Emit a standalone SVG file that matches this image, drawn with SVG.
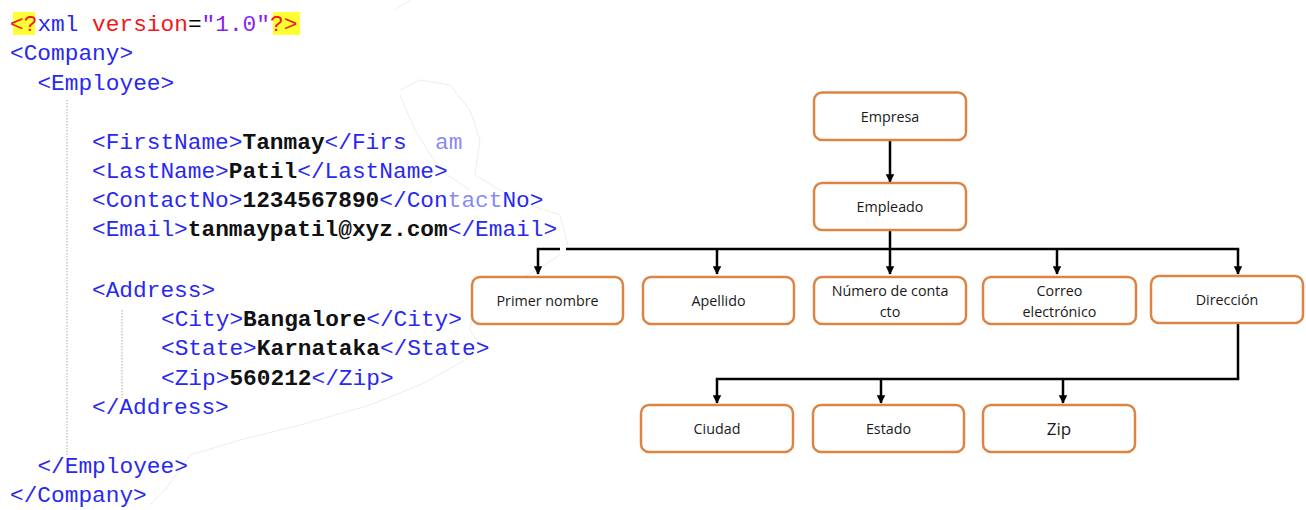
<svg xmlns="http://www.w3.org/2000/svg" width="1306" height="510" viewBox="0 0 1306 510">
<style>
.code{font-family:"Liberation Mono","Courier New",monospace;font-size:22.8px;}
.tag{fill:#2828f0;}
.val{fill:#111;font-weight:bold;}
.attr{fill:#f01818;}
.str{fill:#8a1ef0;}
.box rect{fill:#fff;stroke:#dc8444;stroke-width:2.5;}
.box text{font-family:"Open Sans","Noto Sans",sans-serif;font-size:14.3px;fill:#1a1a1a;text-anchor:middle;}
.con{stroke:#000;stroke-width:2.5;fill:none;}
.guide{stroke:#aaa;stroke-width:1;stroke-dasharray:1.5 1.5;}
</style>
<defs>
<marker id="ah" viewBox="0 0 10 10" refX="9" refY="5" markerWidth="3.4" markerHeight="3.4" orient="auto" markerUnits="strokeWidth">
<path d="M0,0 L10,5 L0,10 Z" fill="#000"/>
</marker>
</defs>
<rect width="1306" height="510" fill="#fff"/>
<!-- faint background outline -->
<path d="M395,10 L410,0 M400,90 L420,80 L450,85 L470,110 L480,140 L475,175 L500,190 L530,205 L560,215 L568,245 M400,95 L415,130 L440,170 L470,190 M560,255 L520,280 L475,300 L470,330 L480,345 L465,360 L420,385 L370,405 L300,425 L240,440 L190,455 L180,470 L165,490 L150,505" fill="none" stroke="#ededed" stroke-width="1"/>
<!-- XML code -->
<g id="code">
<rect x="13" y="12" width="22" height="23" fill="#ffff33"/>
<rect x="273" y="12" width="27" height="23" fill="#ffff33"/>
<line class="guide" x1="67" y1="100" x2="67" y2="455"/>
<line class="guide" x1="122" y1="310" x2="122" y2="398"/>
<text class="code" x="10" y="31"><tspan class="attr">&lt;?</tspan><tspan class="tag">xml</tspan> <tspan class="attr">version</tspan><tspan fill="#000">=</tspan><tspan class="str">"1.0"</tspan><tspan class="attr">?&gt;</tspan></text>
<text class="code tag" x="10" y="60">&lt;Company&gt;</text>
<text class="code tag" x="37.4" y="90">&lt;Employee&gt;</text>
<text class="code" x="92" y="149"><tspan class="tag">&lt;FirstName&gt;</tspan><tspan class="val">Tanmay</tspan><tspan class="tag">&lt;/Firs</tspan></text>
<text class="code tag" x="435" y="149" opacity="0.55">am</text>
<text class="code" x="92" y="207"><tspan class="tag">&lt;ContactNo&gt;</tspan><tspan class="val">1234567890</tspan><tspan class="tag">&lt;/Con</tspan><tspan class="tag" opacity="0.55">tact</tspan><tspan class="tag">No&gt;</tspan></text>
<text class="code" x="92" y="178"><tspan class="tag">&lt;LastName&gt;</tspan><tspan class="val">Patil</tspan><tspan class="tag">&lt;/LastName&gt;</tspan></text>
<text class="code" x="92" y="236"><tspan class="tag">&lt;Email&gt;</tspan><tspan class="val">tanmaypatil@xyz.com</tspan><tspan class="tag">&lt;/Email&gt;</tspan></text>
<text class="code tag" x="92" y="297">&lt;Address&gt;</text>
<text class="code" x="161" y="326"><tspan class="tag">&lt;City&gt;</tspan><tspan class="val">Bangalore</tspan><tspan class="tag">&lt;/City&gt;</tspan></text>
<text class="code" x="161" y="355"><tspan class="tag">&lt;State&gt;</tspan><tspan class="val">Karnataka</tspan><tspan class="tag">&lt;/State&gt;</tspan></text>
<text class="code" x="161" y="385"><tspan class="tag">&lt;Zip&gt;</tspan><tspan class="val">560212</tspan><tspan class="tag">&lt;/Zip&gt;</tspan></text>
<text class="code tag" x="92" y="414">&lt;/Address&gt;</text>
<text class="code tag" x="37.4" y="473">&lt;/Employee&gt;</text>
<text class="code tag" x="10" y="502">&lt;/Company&gt;</text>
</g>
<!-- connectors -->
<g id="connectors">
<line class="con" x1="890" y1="140" x2="890" y2="182" marker-end="url(#ah)"/>
<line class="con" x1="890" y1="230" x2="890" y2="249"/>
<line class="con" x1="536.8" y1="249" x2="560" y2="249"/>
<line class="con" x1="566" y1="249" x2="1239.2" y2="249"/>
<line class="con" x1="538" y1="249" x2="538" y2="274" marker-end="url(#ah)"/>
<line class="con" x1="717" y1="249" x2="717" y2="274" marker-end="url(#ah)"/>
<line class="con" x1="890" y1="249" x2="890" y2="274" marker-end="url(#ah)"/>
<line class="con" x1="1057" y1="249" x2="1057" y2="274" marker-end="url(#ah)"/>
<line class="con" x1="1238" y1="249" x2="1238" y2="274" marker-end="url(#ah)"/>
<line class="con" x1="1238" y1="323" x2="1238" y2="379"/>
<line class="con" x1="715.8" y1="379" x2="1239.2" y2="379"/>
<line class="con" x1="717" y1="379" x2="717" y2="403" marker-end="url(#ah)"/>
<line class="con" x1="881" y1="379" x2="881" y2="403" marker-end="url(#ah)"/>
<line class="con" x1="1063" y1="379" x2="1063" y2="403" marker-end="url(#ah)"/>
</g>
<!-- nodes -->
<g id="empresa" class="box"><rect x="814" y="92.5" width="152" height="47.5" rx="8"/><text x="890" y="121.5">Empresa</text></g>
<g id="empleado" class="box"><rect x="814" y="183" width="152" height="47" rx="8"/><text x="890" y="212">Empleado</text></g>
<g id="primer" class="box"><rect x="472" y="277" width="151" height="47" rx="8"/><text x="547.5" y="306">Primer nombre</text></g>
<g id="apellido" class="box"><rect x="643" y="277" width="151" height="47" rx="8"/><text x="718.5" y="306">Apellido</text></g>
<g id="numero" class="box"><rect x="814" y="277" width="152" height="47" rx="8"/><text x="890" y="296">Número de conta</text><text x="890" y="317">cto</text></g>
<g id="correo" class="box"><rect x="983" y="277" width="153" height="47" rx="8"/><text x="1059.5" y="296">Correo</text><text x="1059.5" y="317">electrónico</text></g>
<g id="direccion" class="box"><rect x="1151" y="276" width="152" height="47" rx="8"/><text x="1227" y="305">Dirección</text></g>
<g id="ciudad" class="box"><rect x="641" y="405" width="152" height="47" rx="8"/><text x="717" y="434">Ciudad</text></g>
<g id="estado" class="box"><rect x="813" y="405" width="151" height="47" rx="8"/><text x="888.5" y="434">Estado</text></g>
<g id="zip" class="box"><rect x="983" y="405" width="152" height="47" rx="8"/><text x="1059" y="435" style="font-size:17px">Zip</text></g>
</svg>
